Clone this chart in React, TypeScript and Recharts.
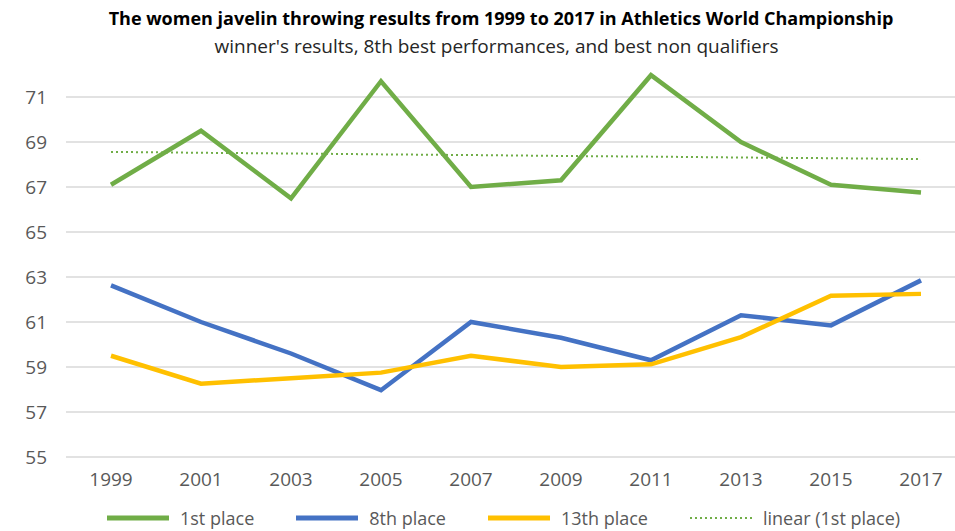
import React from 'react';
import { LineChart, Line, XAxis, YAxis, CartesianGrid } from 'recharts';

const years = ['1999', '2001', '2003', '2005', '2007', '2009', '2011', '2013', '2015', '2017'];
const firstPlace = [67.1, 69.5, 66.5, 71.7, 67.0, 67.3, 71.97, 69.0, 67.1, 66.76];
const eighthPlace = [62.63, 61.0, 59.6, 57.97, 61.0, 60.3, 59.3, 61.3, 60.85, 62.85];
const thirteenthPlace = [59.5, 58.26, 58.5, 58.75, 59.5, 59.0, 59.12, 60.33, 62.17, 62.25];
const linearFirst = [68.56, 68.52, 68.49, 68.45, 68.42, 68.38, 68.35, 68.31, 68.28, 68.24];
const yTicks = [55, 57, 59, 61, 63, 65, 67, 69, 71];

const data = years.map((y, i) => ({
    year: y,
    first: firstPlace[i],
    eighth: eighthPlace[i],
    thirteenth: thirteenthPlace[i],
    linear: linearFirst[i]
}));

const GREEN = '#70AD47';
const BLUE = '#4472C4';
const YELLOW = '#FFC000';
const FONT = '"Open Sans", sans-serif';

const legendItems = [
    { label: '1st place', color: GREEN, dotted: false },
    { label: '8th place', color: BLUE, dotted: false },
    { label: '13th place', color: YELLOW, dotted: false },
    { label: 'linear (1st place)', color: GREEN, dotted: true }
];

// legend drawn as plain html so it doesn't eat the plot height
const ChartLegend = () => (
    <div style={{ position: 'absolute', top: 506, left: 107, display: 'flex', alignItems: 'center', fontFamily: FONT, fontSize: 18, color: '#595959', whiteSpace: 'nowrap' }}>
        {legendItems.map((it) => (
            <div key={it.label} style={{ display: 'flex', alignItems: 'center', marginRight: 42 }}>
                <svg width={62} height={8} style={{ marginRight: 11 }}>
                    {it.dotted
                        ? <line x1={0} y1={4} x2={62} y2={4} stroke={it.color} strokeWidth={2} strokeDasharray="2 3" />
                        : <line x1={0} y1={4} x2={62} y2={4} stroke={it.color} strokeWidth={5} />}
                </svg>
                <span>{it.label}</span>
            </div>
        ))}
    </div>
);

export default function App() {
    return (
        <div style={{ position: 'absolute', top: 0, left: 0, width: 955, height: 531, background: '#fff', overflow: 'hidden' }}>
            <div style={{ position: 'absolute', top: 6, left: 0, width: 1002, textAlign: 'center', fontFamily: FONT, fontWeight: 700, fontSize: 18, color: '#000', whiteSpace: 'nowrap' }}>
                The women javelin throwing results from 1999 to 2017 in Athletics World Championship
            </div>
            <div style={{ position: 'absolute', top: 33, left: 0, width: 993, textAlign: 'center', fontFamily: FONT, fontSize: 19, color: '#262626', whiteSpace: 'nowrap' }}>
                winner's results, 8th best performances, and best non qualifiers
            </div>
            <LineChart
                width={955}
                height={531}
                data={data}
                margin={{ top: 52, right: 0, left: 6, bottom: 44 }}>
                <CartesianGrid vertical={false} horizontalValues={yTicks} stroke="#D9D9D9" strokeWidth={1.5} />
                <XAxis
                    dataKey="year"
                    height={30}
                    axisLine={false}
                    tickLine={false}
                    tickSize={0}
                    tickMargin={16}
                    padding={{ left: 45, right: 34 }}
                    tick={{ fill: '#595959', fontSize: 19, fontFamily: FONT }}
                    interval={0}
                />
                <YAxis
                    width={60}
                    domain={[55, 73]}
                    ticks={yTicks}
                    axisLine={false}
                    tickLine={false}
                    tickSize={0}
                    tickMargin={19}
                    tick={{ fill: '#595959', fontSize: 19, fontFamily: FONT }}
                />
                <Line type="linear" dataKey="linear" name="linear (1st place)" stroke={GREEN} strokeWidth={2} strokeDasharray="2 3" dot={false} isAnimationActive={false} />
                <Line type="linear" dataKey="first" name="1st place" stroke={GREEN} strokeWidth={4.5} dot={false} isAnimationActive={false} />
                <Line type="linear" dataKey="eighth" name="8th place" stroke={BLUE} strokeWidth={4.5} dot={false} isAnimationActive={false} />
                <Line type="linear" dataKey="thirteenth" name="13th place" stroke={YELLOW} strokeWidth={4.5} dot={false} isAnimationActive={false} />
            </LineChart>
            <ChartLegend />
        </div>
    );
}
